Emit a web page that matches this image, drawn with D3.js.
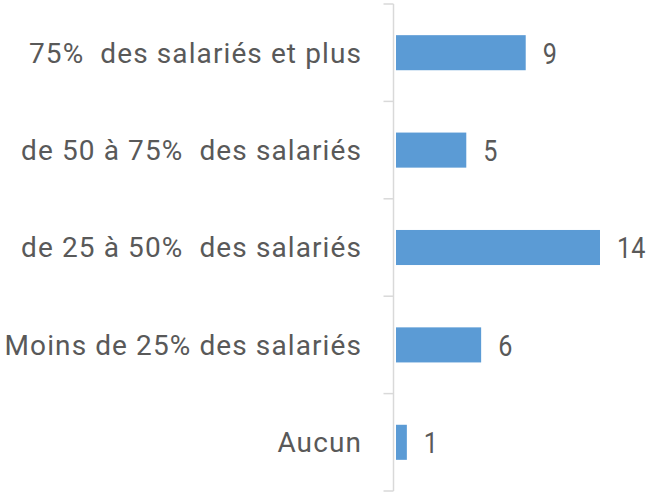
<!DOCTYPE html>
<html><head><meta charset="utf-8">
<script src="https://cdn.jsdelivr.net/npm/d3@7"></script>
<style>body{margin:0;background:#fff} text{white-space:pre}</style>
</head><body>
<script>
const categories = ["75%  des salariés et plus","de 50 à 75%  des salariés","de 25 à 50%  des salariés","Moins de 25% des salariés","Aucun"];
const values = [9,5,14,6,1];

const W=646,H=493;
const svg=d3.select("body").append("svg").attr("width",W).attr("height",H);
const x=d3.scaleLinear().domain([0,14]).range([392,600]);
const y=d3.scaleBand().domain(categories).range([4,491]).paddingInner(0.64).paddingOuter(0.32);
const font="Roboto, 'Open Sans', sans-serif";
const fs=28;

const ag=svg.append("g").attr("transform","translate(393.5,0)");
ag.append("line").attr("x1",0).attr("x2",0).attr("y1",4).attr("y2",491).attr("stroke","#d9d9d9").attr("stroke-width",1.5);
const bounds=d3.range(categories.length+1).map(i=>4+i*(487/categories.length));
ag.selectAll("line.tk").data(bounds).join("line").attr("class","tk")
  .attr("x1",-10).attr("x2",0).attr("y1",d=>d).attr("y2",d=>d).attr("stroke","#d9d9d9").attr("stroke-width",1.5);

svg.selectAll("rect.bar").data(values).join("rect").attr("class","bar")
  .attr("x",396).attr("y",(d,i)=>y(categories[i]))
  .attr("width",d=>x(d)-396).attr("height",y.bandwidth())
  .attr("fill","#5b9bd5");

svg.selectAll("text.val").data(values).join("text").attr("class","val")
  .attr("transform",(d,i)=>`translate(${x(d)+17},${y(categories[i])+y.bandwidth()/2}) scale(0.84,1)`)
  .attr("dy","0.36em").attr("font-family",font).attr("font-size",30).attr("fill","#595959")
  .text(d=>d);

svg.selectAll("text.cat").data(categories).join("text").attr("class","cat")
  .attr("x",362).attr("y",d=>y(d)+y.bandwidth()/2).attr("dy","0.35em")
  .attr("text-anchor","end").attr("font-family",font).attr("font-size",fs).attr("letter-spacing",1.1).attr("fill","#595959")
  .text(d=>d);
</script>
</body></html>
